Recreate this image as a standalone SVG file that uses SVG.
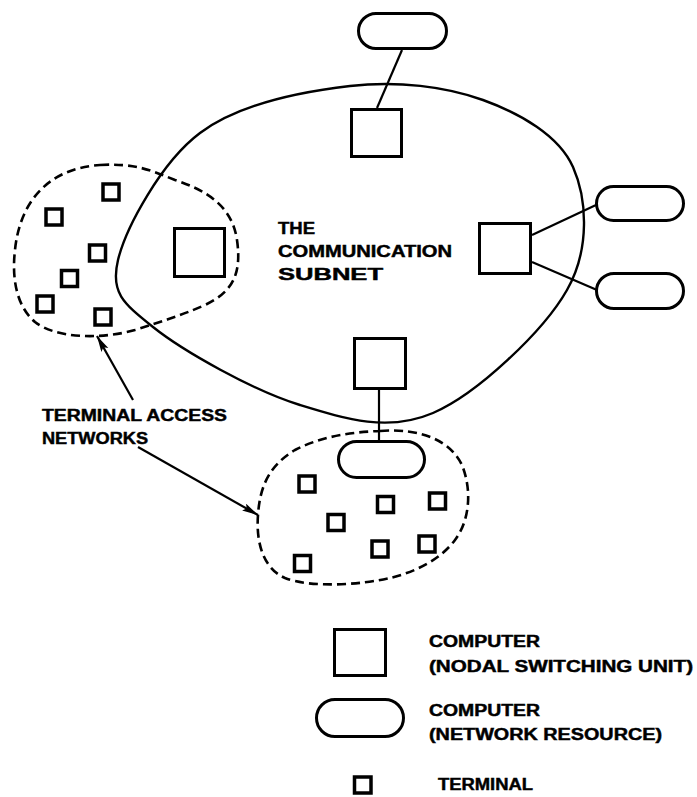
<svg xmlns="http://www.w3.org/2000/svg" width="697" height="797" viewBox="0 0 697 797">
  <defs>
    <style>
      .node { fill: none; stroke: #000; stroke-width: 3; stroke-linejoin: miter; }
      .pill { fill: none; stroke: #000; stroke-width: 3; }
      .term { fill: none; stroke: #000; stroke-width: 3.5; }
      .subnet { fill: none; stroke: #000; stroke-width: 2.4; }
      .access { fill: none; stroke: #000; stroke-width: 2.6; stroke-dasharray: 9 5; }
      .link { fill: none; stroke: #000; stroke-width: 2.2; }
      .label { font-family: "Liberation Sans", Arial, sans-serif; font-weight: bold; font-size: 16px; fill: #000; stroke: #000; stroke-width: 0.45; }
    </style>
    <marker id="arrow" markerUnits="userSpaceOnUse" markerWidth="18" markerHeight="10" refX="16" refY="4" orient="auto">
      <path d="M0,0 L16,4 L0,8 L3,4 Z" fill="#000"/>
    </marker>
  </defs>

  <rect width="697" height="797" fill="#fff"/>

  <!-- communication subnet boundary -->
  <g id="subnet">
    <path class="subnet" d="M118,260 C125.8,227.7 161.3,162 200,133 C238.7,104 302.8,91.5 350,86 C397.2,80.5 445.8,86.5 483,100 C520.2,113.5 559,135.3 573,167 C587,198.7 590.3,249 567,290 C543.7,331 477.5,393.8 433,413 C388.5,432.2 346.7,419.3 300,405 C253.3,390.7 183.3,351.2 153,327 C122.7,302.8 110.2,292.3 118,260 Z"/>
    <text class="label" x="278" y="234" textLength="37" lengthAdjust="spacingAndGlyphs">THE</text>
    <text class="label" x="278" y="257" textLength="174" lengthAdjust="spacingAndGlyphs">COMMUNICATION</text>
    <text class="label" x="278" y="280" textLength="105" lengthAdjust="spacingAndGlyphs">SUBNET</text>
  </g>

  <!-- terminal access networks -->
  <g id="access-west">
    <path class="access" d="M100,165 C135,163 150,170 175,180 C205,190 232,205 237,240 C242,275 232,292 205,305 C180,316 160,322 135,330 C100,340 55,338 35,322 C15,305 12,275 15,250 C20,200 50,168 100,165 Z"/>
    <rect class="term" x="103" y="184" width="16" height="16"/>
    <rect class="term" x="46" y="209" width="16" height="16"/>
    <rect class="term" x="89.5" y="245" width="16" height="16"/>
    <rect class="term" x="61.5" y="270.5" width="16" height="16"/>
    <rect class="term" x="37" y="296" width="16" height="16"/>
    <rect class="term" x="95" y="309" width="16" height="16"/>
  </g>

  <g id="access-south">
    <path class="access" d="M380,431 C420,428 450,440 462,465 C472,490 470,520 455,540 C440,560 415,572 390,578 C360,585 310,588 285,578 C262,568 256,540 258,515 C260,485 270,465 295,450 C320,437 350,432 380,431 Z"/>
    <rect class="term" x="299" y="476" width="16" height="16"/>
    <rect class="term" x="328" y="514.5" width="16" height="16"/>
    <rect class="term" x="377.5" y="496.5" width="16" height="16"/>
    <rect class="term" x="429.5" y="493" width="16" height="16"/>
    <rect class="term" x="372" y="541" width="16" height="16"/>
    <rect class="term" x="419" y="536" width="16" height="16"/>
    <rect class="term" x="294.5" y="555.5" width="16" height="16"/>
  </g>

  <!-- nodal switching units -->
  <g id="nsu-north"><rect class="node" x="351.5" y="109.5" width="50" height="47"/></g>
  <g id="nsu-west"><rect class="node" x="174.5" y="228.5" width="50" height="48"/></g>
  <g id="nsu-east"><rect class="node" x="479.5" y="223.5" width="51" height="50"/></g>
  <g id="nsu-south"><rect class="node" x="354.5" y="338.5" width="51" height="50"/></g>

  <!-- network resources -->
  <g id="res-north"><rect class="pill" x="358.5" y="13.5" width="88" height="35" rx="17.5"/></g>
  <g id="res-east-1"><rect class="pill" x="596.5" y="186.5" width="87" height="34" rx="17"/></g>
  <g id="res-east-2"><rect class="pill" x="596.5" y="273.5" width="87" height="35" rx="17.5"/></g>
  <g id="res-south"><rect class="pill" x="338.5" y="441.5" width="86" height="36" rx="18"/></g>

  <!-- connectors -->
  <g id="connectors">
    <line class="link" x1="402" y1="50" x2="377" y2="108"/>
    <line class="link" x1="532" y1="235" x2="596" y2="205"/>
    <line class="link" x1="532" y1="262" x2="597" y2="290"/>
    <line class="link" x1="379" y1="390" x2="379" y2="440"/>
    <line class="link" x1="133" y1="400" x2="97" y2="336" marker-end="url(#arrow)"/>
    <line class="link" x1="138" y1="447" x2="258" y2="515" marker-end="url(#arrow)"/>
  </g>

  <g id="access-label">
    <text class="label" x="42" y="421" font-size="16.5" textLength="185" lengthAdjust="spacingAndGlyphs">TERMINAL ACCESS</text>
    <text class="label" x="42" y="444" font-size="16.5" textLength="106" lengthAdjust="spacingAndGlyphs">NETWORKS</text>
  </g>

  <!-- key -->
  <g id="key-nsu">
    <rect class="node" x="334.5" y="629.5" width="51" height="46"/>
    <text class="label" x="429" y="647" textLength="111" lengthAdjust="spacingAndGlyphs">COMPUTER</text>
    <text class="label" x="429" y="672" textLength="264" lengthAdjust="spacingAndGlyphs">(NODAL SWITCHING UNIT)</text>
  </g>
  <g id="key-resource">
    <rect class="pill" x="316.5" y="699.5" width="87" height="37" rx="18.5"/>
    <text class="label" x="429" y="716" textLength="111" lengthAdjust="spacingAndGlyphs">COMPUTER</text>
    <text class="label" x="429" y="740" textLength="233" lengthAdjust="spacingAndGlyphs">(NETWORK RESOURCE)</text>
  </g>
  <g id="key-terminal">
    <rect class="term" x="354.5" y="777" width="16.5" height="16"/>
    <text class="label" x="438" y="790" textLength="95" lengthAdjust="spacingAndGlyphs">TERMINAL</text>
  </g>
</svg>
